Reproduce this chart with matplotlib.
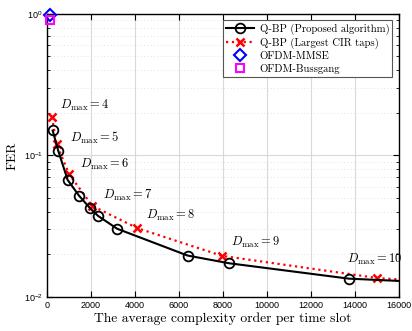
import matplotlib.pyplot as plt
import numpy as np

# Q-BP (proposed), last point lies past the axis limit (clipped)
qbp_x = [260, 514, 940, 1455, 1955, 2330, 3195, 6395, 8270, 13727, 18500]
qbp_fer = [0.150, 0.1076, 0.0671, 0.052, 0.0424, 0.0373, 0.0303, 0.0196, 0.0173, 0.01346, 0.01245]

# Q-BP with largest CIR taps
cir_x = [227, 441, 1000, 2059, 4114, 7968, 15014, 18000]
cir_fer = [0.186, 0.120, 0.074, 0.044, 0.0306, 0.0195, 0.0136, 0.0127]

# OFDM baselines
mmse_x, mmse_fer = [130], [0.98]
bussgang_x, bussgang_fer = [150], [0.91]

# D_max annotations
dmax_vals = [4, 5, 6, 7, 8, 9, 10]
dmax_x = [591, 1045, 1500, 2532, 4500, 8364, 13636]
dmax_y = [0.224, 0.133, 0.0857, 0.0518, 0.0374, 0.0241, 0.01846]

plt.rcParams['mathtext.fontset'] = 'cm'
plt.rcParams['axes.unicode_minus'] = False
serif = 'cmr10'

fig = plt.figure(figsize=(4.12, 3.31), dpi=100)
ax = fig.add_axes([0.114, 0.103, 0.854, 0.855])

ax.plot(qbp_x, qbp_fer, '-', color='black', lw=1.5, marker='o', ms=7,
        mfc='none', mec='black', mew=1.3, markevery=list(range(10)),
        label='Q-BP (Proposed algorithm)', zorder=4)
ax.plot(cir_x, cir_fer, ':', color='red', lw=1.6, marker='x', ms=6,
        mew=1.8, markevery=list(range(7)),
        label='Q-BP (Largest CIR taps)', zorder=3)
ax.plot(mmse_x, mmse_fer, linestyle='none', marker='D', ms=6, mfc='none',
        mec='blue', mew=1.5, label='OFDM-MMSE', clip_on=False, zorder=5)
ax.plot(bussgang_x, bussgang_fer, linestyle='none', marker='s', ms=6,
        mfc='none', mec='magenta', mew=1.5, label='OFDM-Bussgang',
        clip_on=False, zorder=5)

for d, x, y in zip(dmax_vals, dmax_x, dmax_y):
    ax.text(x, y, r'$D_{\max}=%d$' % d, fontsize=9, ha='left', va='center')

ax.set_yscale('log')
ax.set_xlim(0, 16000)
ax.set_ylim(1e-2, 1)
ax.set_xticks(np.arange(0, 16001, 2000))

ax.grid(True, which='major', color='#d9d9d9', lw=0.8, ls='-')
ax.grid(True, which='minor', axis='y', color='#d8d8d8', lw=0.6, ls=(0, (1, 3)))
ax.set_axisbelow(True)

ax.tick_params(which='both', direction='in', top=True, right=True,
               labelsize=6.5, pad=3)
ax.tick_params(which='major', length=4)
ax.tick_params(which='minor', length=2.5)
for lab in ax.get_xticklabels() + ax.get_yticklabels():
    lab.set_family('Liberation Sans')
for sp in ax.spines.values():
    sp.set_linewidth(1.0)

ax.set_xlabel('The average complexity order per time slot', family=serif,
              fontsize=9.8, labelpad=2)
ax.set_ylabel('FER', family=serif, fontsize=9.8, labelpad=4)

leg = ax.legend(loc='upper right', prop={'family': serif, 'size': 7.7},
                fancybox=False, framealpha=1, edgecolor='#555555',
                borderaxespad=0.6, handlelength=2.6, labelspacing=0.25,
                borderpad=0.3, handletextpad=0.5)
leg.get_frame().set_linewidth(0.8)

fig.savefig('out.png', dpi=100)
